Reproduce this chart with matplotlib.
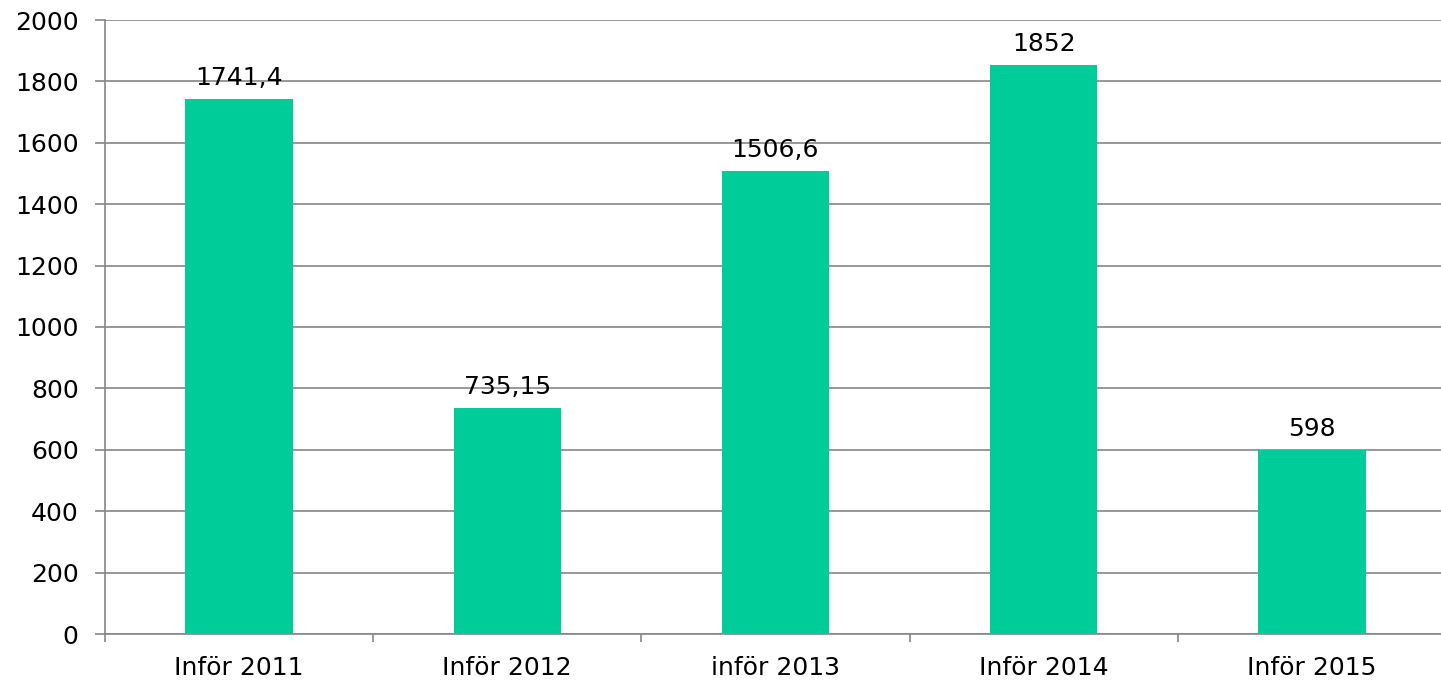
import numpy as np
import matplotlib.pyplot as plt
from matplotlib.ticker import FixedLocator

categories = ['Inför 2011', 'Inför 2012', 'inför 2013', 'Inför 2014', 'Inför 2015']
values = [1741.4, 735.15, 1506.6, 1852, 598]
value_labels = ['1741,4', '735,15', '1506,6', '1852', '598']
yticks = [0, 200, 400, 600, 800, 1000, 1200, 1400, 1600, 1800, 2000]

bar_color = '#00CC99'
grid_color = '#868686'

fig = plt.figure(figsize=(14.41, 6.83), dpi=100)
ax = fig.add_axes([105 / 1441, 49 / 683, 1341 / 1441, 614 / 683])

x = np.arange(len(categories))
bars = ax.bar(x, values, width=0.4, color=bar_color, zorder=3)

# value labels above each bar
for b, lab in zip(bars, value_labels):
    ax.annotate(lab, (b.get_x() + b.get_width() / 2, b.get_height()),
                xytext=(0, 7), textcoords='offset points',
                ha='center', va='bottom', fontsize=18, color='black')

ax.set_xlim(-0.5, len(categories) - 0.5)
ax.set_ylim(0, 2000)
ax.set_yticks(yticks)
ax.set_yticklabels([str(t) for t in yticks], fontsize=18)
ax.yaxis.grid(True, color=grid_color, linewidth=1.2, zorder=0)

ax.set_xticks(x)
ax.set_xticklabels(categories, fontsize=18)
ax.xaxis.set_minor_locator(FixedLocator(np.arange(-0.5, len(categories), 1.0)))
ax.tick_params(axis='x', which='major', length=0, pad=16)
ax.tick_params(axis='x', which='minor', length=6, color=grid_color, width=1.2)
ax.tick_params(axis='y', length=7, color=grid_color, width=1.2, pad=12)

ax.spines['right'].set_visible(False)
ax.spines['top'].set_visible(False)
ax.spines['left'].set_color(grid_color)
ax.spines['bottom'].set_color(grid_color)
ax.spines['left'].set_linewidth(1.2)
ax.spines['bottom'].set_linewidth(1.2)

fig.savefig('out.png', dpi=100)
